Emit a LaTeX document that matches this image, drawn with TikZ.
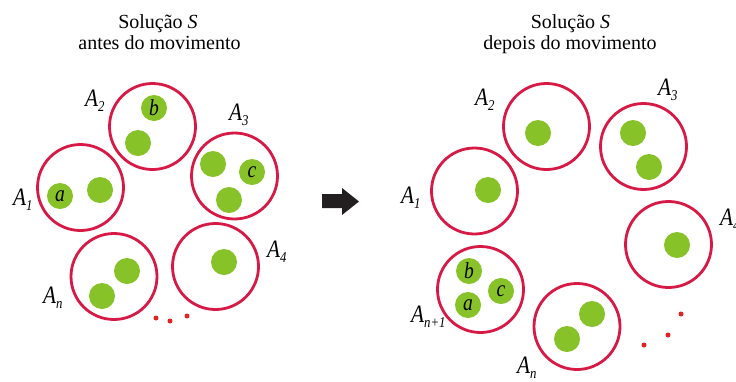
\documentclass[tikz,border=0pt]{standalone}
\usepackage{fontspec}
\setmainfont{Liberation Serif}
\newfontfamily\labfont{Liberation Serif}[FakeStretch=0.85]
\definecolor{ringc}{RGB}{215,25,70}
\definecolor{dotg}{RGB}{134,194,40}
\definecolor{ddot}{RGB}{225,35,35}
\definecolor{arrc}{RGB}{35,31,32}
\newcommand\subs[1]{\raisebox{-5pt}{\fontsize{15}{15}\selectfont #1}}
\tikzset{
  ringnode/.style={draw=ringc, line width=2.8pt, circle, minimum size=86pt, inner sep=0pt},
  gdot/.style={fill=dotg, circle, minimum size=26pt, inner sep=0pt, font=\labfont\itshape\fontsize{23}{23}\selectfont},
  rdot/.style={fill=ddot, circle, minimum size=5pt, inner sep=0pt},
  lab/.style={inner sep=0pt, anchor=base west, font=\labfont\itshape\fontsize{25}{25}\selectfont},
  ttl/.style={inner sep=0pt, anchor=base, font=\fontsize{20}{20}\selectfont},
}
\begin{document}
\begin{tikzpicture}[x=1pt,y=-1pt]
\useasboundingbox (0,0) rectangle (736,381);
\clip (0,0) rectangle (736,381);
% titles
\node[ttl] (t1) at (158,28) {Solução \textit{S}};
\node[ttl] (t2) at (159.5,49) {antes do movimento};
\node[ttl] (t3) at (570.5,28) {Solução \textit{S}};
\node[ttl] (t4) at (570,49) {depois do movimento};
% left circles
\node[ringnode] (L2) at (152.5,126.5) {};
\node[ringnode] (L3) at (234.5,176) {};
\node[ringnode] (L1) at (80.5,187.5) {};
\node[ringnode] (Ln) at (114,276.5) {};
\node[ringnode] (L4) at (215.5,266.5) {};
% left dots
\node[gdot] (lb) at (154,108) {b};
\node[gdot] (l2b) at (138,143) {};
\node[gdot] (l3a) at (213,164) {};
\node[gdot] (lc) at (252,172) {c};
\node[gdot] (l3b) at (229,200) {};
\node[gdot] (la) at (60,196) {a};
\node[gdot] (l1b) at (100,190) {};
\node[gdot] (lna) at (127,271) {};
\node[gdot] (lnb) at (102,296) {};
\node[gdot] (l4a) at (224,262) {};
\node[rdot] (lr1) at (156,318) {};
\node[rdot] (lr2) at (170,321) {};
\node[rdot] (lr3) at (187,316) {};
% left labels
\node[lab] (lA2) at (85,106) {A\subs{2}};
\node[lab] (lA3) at (229,120) {A\subs{3}};
\node[lab] (lA1) at (13,205) {A\subs{1}};
\node[lab] (lAn) at (43,303) {A\subs{n}};
\node[lab] (lA4) at (267,257) {A\subs{4}};
% arrow
\fill[arrc] (322,194) -- (342,194) -- (342,188) -- (359,201.5) -- (342,215) -- (342,208) -- (322,208) -- cycle;
% right circles
\node[ringnode] (R2) at (546.5,126.5) {};
\node[ringnode] (R3) at (643.5,146.5) {};
\node[ringnode] (R1) at (474.5,191) {};
\node[ringnode] (R4) at (668.5,244.5) {};
\node[ringnode] (Rm) at (480.5,289.5) {};
\node[ringnode] (Rn) at (577,326.5) {};
% right dots
\node[gdot] (r2a) at (538,133) {};
\node[gdot] (r3a) at (633,133) {};
\node[gdot] (r3b) at (649,167) {};
\node[gdot] (r1a) at (488,190) {};
\node[gdot] (r4a) at (677,245) {};
\node[gdot] (rb) at (469,271) {b};
\node[gdot] (rc) at (501,291) {c};
\node[gdot] (ra) at (468,305) {a};
\node[gdot] (rna) at (592,314) {};
\node[gdot] (rnb) at (567,339) {};
\node[rdot] (rr1) at (644,345) {};
\node[rdot] (rr2) at (668,335) {};
\node[rdot] (rr3) at (681,314) {};
% right labels
\node[lab] (rA2) at (475,105) {A\subs{2}};
\node[lab] (rA3) at (658,95) {A\subs{3}};
\node[lab] (rA1) at (401,203) {A\subs{1}};
\node[lab] (rA4) at (720,225) {A\subs{4}};
\node[lab] (rAm) at (411,322) {A\subs{n+1}};
\node[lab] (rAn) at (517,373.5) {A\subs{n}};
\end{tikzpicture}
\end{document}
